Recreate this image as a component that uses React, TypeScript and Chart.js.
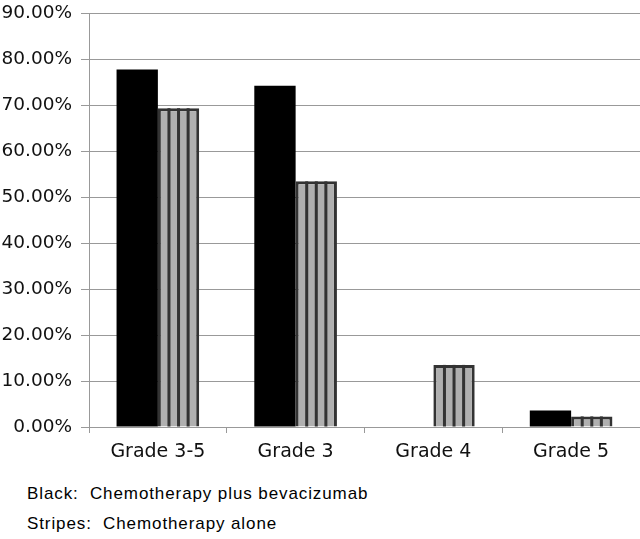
import React, { useEffect, useRef } from "react";
import { Chart, registerables } from "chart.js";

Chart.register(...registerables);

const categories = ["Grade 3-5", "Grade 3", "Grade 4", "Grade 5"];
const combinedValues = [77.7, 74.2, 0, 3.6];
const aloneValues = [69.3, 53.4, 13.5, 2.3];
const yTicks = [0, 10, 20, 30, 40, 50, 60, 70, 80, 90];
const noteLines = ["Black:  Chemotherapy plus bevacizumab", "Stripes:  Chemotherapy alone"];

const FONT = "'DejaVu Sans', Verdana, sans-serif";
const NOTE_FONT = "'Liberation Sans', Arial, sans-serif";

const stripePlugin = {
  id: "stripes",
  afterDatasetsDraw(chart: any) {
    const meta = chart.getDatasetMeta(1);
    const ctx = chart.ctx;
    ctx.save();
    ctx.fillStyle = "#333333";
    meta.data.forEach((bar: any) => {
      const p = bar.getProps(["x", "y", "base", "width"], true);
      const left = p.x - p.width / 2;
      const top = Math.min(p.y, p.base);
      const bottom = Math.max(p.y, p.base);
      if (bottom - top < 1) return;
      const bw = 3;
      const inner = p.width - 2 * bw;
      const g = (inner - 3 * bw) / 4;
      for (let i = 0; i < 3; i++) {
        const sx = left + bw + g * (i + 1) + bw * i;
        ctx.fillRect(sx, top, bw, bottom - top);
      }
    });
    ctx.restore();
  },
};

export default function App() {
  const ref = useRef<HTMLCanvasElement>(null);
  useEffect(() => {
    if (!ref.current) return;
    const chart = new Chart(ref.current, {
      type: "bar",
      data: {
        labels: categories,
        datasets: [
          {
            label: "Chemotherapy plus bevacizumab",
            data: combinedValues,
            backgroundColor: "#000000",
            borderWidth: 0,
            categoryPercentage: 0.6,
            barPercentage: 1,
          },
          {
            label: "Chemotherapy alone",
            data: aloneValues,
            backgroundColor: "#b0b0b0",
            borderColor: "#333333",
            borderWidth: 3,
            categoryPercentage: 0.6,
            barPercentage: 1,
          },
        ],
      },
      options: {
        animation: false,
        responsive: false,
        maintainAspectRatio: false,
        layout: { padding: { top: 13, right: 0, left: 0, bottom: 0 } },
        plugins: {
          legend: { display: false },
          tooltip: { enabled: false },
        },
        scales: {
          x: {
            grid: {
              display: true,
              drawOnChartArea: false,
              drawTicks: true,
              tickLength: 6,
              color: "#999999",
              offset: true,
            },
            border: { color: "#999999" },
            ticks: {
              color: "#111111",
              font: { family: FONT, size: 19 },
              padding: 8,
            },
            afterFit: (s: any) => {
              s.height = 33;
              s.paddingLeft = 0;
              s.paddingRight = 0;
            },
          },
          y: {
            min: 0,
            max: 90,
            afterBuildTicks: (s: any) => {
              s.ticks = yTicks.map((v) => ({ value: v }));
            },
            grid: { color: "#999999", tickLength: 8 },
            border: { color: "#999999" },
            ticks: {
              color: "#111111",
              font: { family: FONT, size: 18.5 },
              padding: 9,
              callback: (v: any) => Number(v).toFixed(2) + "%",
            },
            afterFit: (s: any) => {
              s.width = 89;
              s.paddingTop = 0;
              s.paddingBottom = 0;
            },
          },
        },
      },
      plugins: [stripePlugin],
    });
    return () => chart.destroy();
  }, []);

  return (
    <div style={{ position: "absolute", left: 0, top: 0, width: 640, height: 539, background: "#fff" }}>
      <canvas ref={ref} width={640} height={460} style={{ display: "block" }} />
      {noteLines.map((t, i) => (
        <div
          key={i}
          style={{
            position: "absolute",
            left: 27,
            top: 484 + i * 30,
            fontFamily: NOTE_FONT,
            fontSize: 17,
            letterSpacing: "0.9px",
            whiteSpace: "pre",
            color: "#000",
            lineHeight: "20px",
          }}
        >
          {t}
        </div>
      ))}
    </div>
  );
}
